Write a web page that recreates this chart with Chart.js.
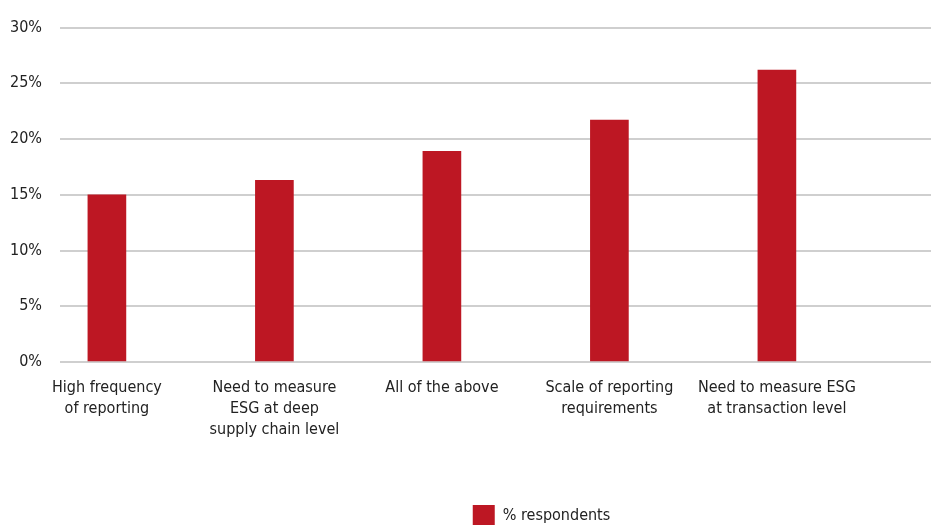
<!DOCTYPE html>
<html lang="en">
<head>
    <meta charset="UTF-8">
    <title>ESG reporting challenges</title>
    <script src="https://cdn.jsdelivr.net/npm/chart.js@4.4.1/dist/chart.umd.min.js"></script>
    <style>
        html, body { margin: 0; padding: 0; background: #fff; overflow: hidden; }
        #wrap { position: relative; width: 931px; height: 537px; }
    </style>
</head>
<body>
    <div id="wrap"><canvas id="esgChart"></canvas></div>
    <script>
        // categories (one entry per line of the wrapped label)
        const categories = [
            ['High frequency', 'of reporting'],
            ['Need to measure', 'ESG at deep', 'supply chain level'],
            ['All of the above'],
            ['Scale of reporting', 'requirements'],
            ['Need to measure ESG', 'at transaction level']
        ];
        const respondents = [15.0, 16.3, 18.9, 21.7, 26.2]; // % respondents
        const yTicks = [0, 5, 10, 15, 20, 25, 30];

        const font = "'Liberation Sans Narrow', 'DejaVu Sans Condensed', sans-serif";
        const red = '#bd1723';

        // nudge the legend a bit to the right, like in the original
        const legendShift = {
            id: 'legendShift',
            afterUpdate(chart) {
                chart.legend.left += 152;
            }
        };

        const ctx = document.getElementById('esgChart').getContext('2d');
        new Chart(ctx, {
            type: 'bar',
            data: {
                datasets: [{
                    label: '% respondents',
                    data: respondents.map((v, i) => ({ x: i, y: v })),
                    backgroundColor: red,
                    borderWidth: 0,
                    barThickness: 38
                }]
            },
            options: {
                responsive: true,
                maintainAspectRatio: false,
                animation: false,
                layout: { padding: { top: 20, left: 0, right: 0, bottom: 0 } },
                plugins: {
                    tooltip: { enabled: false },
                    legend: {
                        position: 'bottom',
                        labels: {
                            boxWidth: 22,
                            boxHeight: 22,
                            padding: 58,
                            color: '#222',
                            font: { family: font, size: 16 }
                        }
                    }
                },
                scales: {
                    x: {
                        type: 'linear',
                        offset: false,
                        min: -0.28,
                        max: 4.92,
                        afterBuildTicks: axis => {
                            axis.ticks = categories.map((c, i) => ({ value: i }));
                        },
                        grid: { display: false },
                        border: { display: false },
                        ticks: {
                            autoSkip: false,
                            maxRotation: 0,
                            padding: 7,
                            color: '#222',
                            font: { family: font, size: 16, lineHeight: '21px' },
                            callback: value => categories[value]
                        }
                    },
                    y: {
                        min: 0,
                        max: 30,
                        afterBuildTicks: axis => {
                            axis.ticks = yTicks.map(v => ({ value: v }));
                        },
                        afterFit: axis => {
                            axis.width = 60;
                        },
                        grid: { color: '#cfcfcf', lineWidth: 2, drawTicks: false },
                        border: { display: false },
                        ticks: {
                            padding: 18,
                            color: '#222',
                            font: { family: font, size: 16 },
                            callback: v => v + '%'
                        }
                    }
                }
            },
            plugins: [legendShift]
        });
    </script>
</body>
</html>
